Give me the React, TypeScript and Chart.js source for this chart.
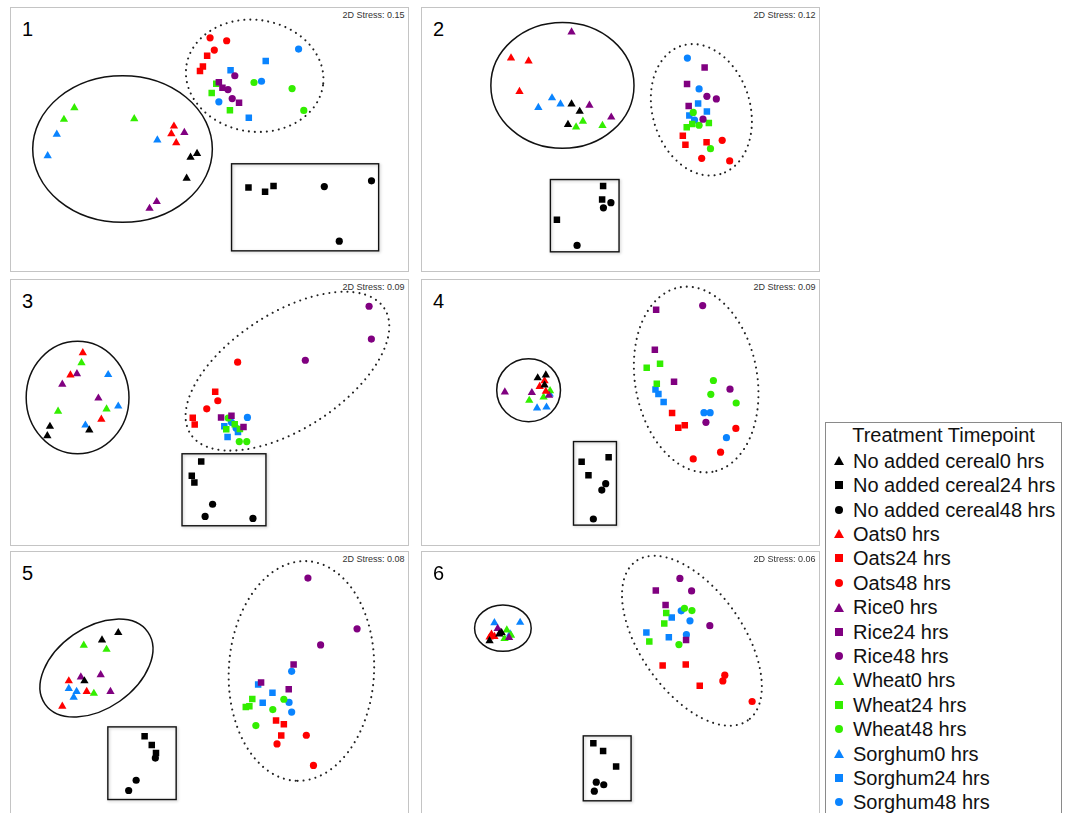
import React, { useEffect, useRef } from 'react';
import { Chart, registerables } from 'chart.js';

Chart.register(...registerables);

// ---------- categories ----------
const TREATMENTS = ['No added cereal', 'Oats', 'Rice', 'Wheat', 'Sorghum'];
const TIMEPOINTS = ['0 hrs', '24 hrs', '48 hrs'];
const TREATMENT_COLORS = ['#000000', '#ff0000', '#800080', '#33ee00', '#0a84ff'];
const TIME_SHAPES = ['triangle', 'rect', 'circle'];
const STRESS_VALUES = ['0.15', '0.12', '0.09', '0.09', '0.08', '0.06'];
const LEGEND_TITLE = 'Treatment Timepoint';

// ---------- NMDS ordination points: [treatment, timepoint, NMDS1, NMDS2] ----------
const panel1Points = [
  [0, 0, 560, 438], [0, 0, 540, 450], [0, 0, 528, 515],
  [0, 1, 718, 544], [0, 1, 769, 557], [0, 1, 795, 539],
  [0, 2, 951, 541], [0, 2, 1096, 523], [0, 2, 997, 711],
  [1, 0, 489, 353], [1, 0, 481, 377], [1, 0, 496, 405],
  [1, 1, 591, 134], [1, 1, 578, 167], [1, 1, 569, 181],
  [1, 2, 600, 78], [1, 2, 651, 87], [1, 2, 613, 116],
  [2, 0, 521, 373], [2, 0, 436, 588], [2, 0, 414, 609],
  [2, 1, 627, 216], [2, 1, 638, 233], [2, 1, 689, 280],
  [2, 2, 676, 196], [2, 2, 655, 239], [2, 2, 668, 267],
  [3, 0, 183, 296], [3, 0, 151, 332], [3, 0, 367, 330],
  [3, 1, 619, 221], [3, 1, 605, 250], [3, 1, 661, 303],
  [3, 2, 735, 217], [3, 2, 852, 236], [3, 2, 888, 304],
  [4, 0, 129, 378], [4, 0, 101, 445], [4, 0, 438, 396],
  [4, 1, 771, 150], [4, 1, 663, 179], [4, 1, 719, 327],
  [4, 2, 872, 113], [4, 2, 758, 213], [4, 2, 627, 277],
];
const panel2Points = [
  [0, 0, 451, 284], [0, 0, 476, 307], [0, 0, 440, 348],
  [0, 1, 548, 539], [0, 1, 545, 581], [0, 1, 406, 644],
  [0, 2, 572, 591], [0, 2, 549, 607], [0, 2, 468, 724],
  [1, 0, 265, 141], [1, 0, 319, 150], [1, 0, 291, 245],
  [1, 1, 793, 383], [1, 1, 801, 411], [1, 1, 866, 403],
  [1, 2, 914, 397], [1, 2, 851, 453], [1, 2, 937, 461],
  [2, 0, 451, 60], [2, 0, 506, 288], [2, 0, 573, 325],
  [2, 1, 860, 170], [2, 1, 806, 222], [2, 1, 811, 290],
  [2, 2, 867, 260], [2, 2, 896, 268], [2, 2, 855, 331],
  [3, 0, 486, 338], [3, 0, 465, 356], [3, 0, 546, 351],
  [3, 1, 805, 356], [3, 1, 873, 343], [3, 1, 822, 346],
  [3, 2, 825, 310], [3, 2, 843, 350], [3, 2, 878, 423],
  [4, 0, 391, 265], [4, 0, 417, 284], [4, 0, 349, 295],
  [4, 1, 840, 282], [4, 1, 867, 307], [4, 1, 813, 320],
  [4, 2, 807, 141], [4, 2, 843, 237], [4, 2, 829, 334],
];
const panel3Points = [
  [0, 0, 108, 447], [0, 0, 100, 476], [0, 0, 229, 458],
  [0, 1, 573, 556], [0, 1, 544, 600], [0, 1, 552, 621],
  [0, 2, 608, 689], [0, 2, 585, 727], [0, 2, 732, 733],
  [1, 0, 209, 218], [1, 0, 171, 287], [1, 0, 266, 425],
  [1, 1, 616, 339], [1, 1, 547, 420], [1, 1, 553, 441],
  [1, 2, 685, 247], [1, 2, 624, 367], [1, 2, 590, 392],
  [2, 0, 191, 283], [2, 0, 146, 316], [2, 0, 257, 359],
  [2, 1, 634, 419], [2, 1, 666, 414], [2, 1, 703, 449],
  [2, 2, 1089, 73], [2, 2, 1096, 175], [2, 2, 893, 241],
  [3, 0, 205, 249], [3, 0, 133, 400], [3, 0, 282, 393],
  [3, 1, 650, 456], [3, 1, 676, 440], [3, 1, 692, 455],
  [3, 2, 656, 421], [3, 2, 690, 494], [3, 2, 713, 494],
  [4, 0, 287, 286], [4, 0, 318, 384], [4, 0, 217, 443],
  [4, 1, 644, 446], [4, 1, 686, 464], [4, 1, 654, 480],
  [4, 2, 715, 419], [4, 2, 666, 434], [4, 2, 680, 452],
];
const panel4Points = [
  [0, 0, 347, 296], [0, 0, 372, 287], [0, 0, 368, 318],
  [0, 1, 482, 557], [0, 1, 565, 543], [0, 1, 503, 599],
  [0, 2, 556, 625], [0, 2, 544, 645], [0, 2, 518, 735],
  [1, 0, 368, 305], [1, 0, 353, 323], [1, 0, 372, 338],
  [1, 1, 760, 405], [1, 1, 779, 451], [1, 1, 799, 443],
  [1, 2, 956, 453], [1, 2, 909, 527], [1, 2, 825, 548],
  [2, 0, 246, 340], [2, 0, 329, 342], [2, 0, 382, 350],
  [2, 1, 711, 84], [2, 1, 707, 208], [2, 1, 766, 308],
  [2, 2, 854, 71], [2, 2, 938, 331], [2, 2, 864, 434],
  [3, 0, 321, 366], [3, 0, 365, 356], [3, 0, 385, 336],
  [3, 1, 682, 264], [3, 1, 723, 252], [3, 1, 713, 314],
  [3, 2, 887, 304], [3, 2, 879, 347], [3, 2, 957, 374],
  [4, 0, 345, 390], [4, 0, 374, 387], [4, 0, 384, 346],
  [4, 1, 709, 332], [4, 1, 718, 346], [4, 1, 734, 371],
  [4, 2, 858, 404], [4, 2, 877, 404], [4, 2, 927, 482],
];
const panel5Points = [
  [0, 0, 318, 258], [0, 0, 268, 281], [0, 0, 214, 408],
  [0, 1, 399, 580], [0, 1, 421, 607], [0, 1, 434, 632],
  [0, 2, 432, 648], [0, 2, 373, 717], [0, 2, 350, 749],
  [1, 0, 166, 408], [1, 0, 221, 441], [1, 0, 146, 487],
  [1, 1, 803, 531], [1, 1, 827, 543], [1, 1, 819, 578],
  [1, 2, 896, 577], [1, 2, 806, 604], [1, 2, 918, 671],
  [2, 0, 264, 389], [2, 0, 203, 396], [2, 0, 294, 441],
  [2, 1, 857, 357], [2, 1, 757, 413], [2, 1, 842, 434],
  [2, 2, 901, 88], [2, 2, 1052, 246], [2, 2, 940, 296],
  [3, 0, 212, 297], [3, 0, 282, 310], [3, 0, 243, 447],
  [3, 1, 730, 464], [3, 1, 721, 487], [3, 1, 710, 489],
  [3, 2, 827, 465], [3, 2, 793, 497], [3, 2, 741, 547],
  [4, 0, 166, 432], [4, 0, 190, 441], [4, 0, 181, 459],
  [4, 1, 748, 419], [4, 1, 792, 445], [4, 1, 762, 476],
  [4, 2, 851, 378], [4, 2, 843, 475], [4, 2, 851, 505],
];
const panel6Points = [
  [0, 0, 199, 283], [0, 0, 229, 262], [0, 0, 236, 258],
  [0, 1, 518, 602], [0, 1, 548, 626], [0, 1, 588, 674],
  [0, 2, 527, 723], [0, 2, 550, 731], [0, 2, 521, 751],
  [1, 0, 205, 263], [1, 0, 214, 270], [1, 0, 199, 272],
  [1, 1, 731, 360], [1, 1, 802, 357], [1, 1, 845, 423],
  [1, 2, 922, 390], [1, 2, 916, 408], [1, 2, 1006, 472],
  [2, 0, 224, 245], [2, 0, 232, 257], [2, 0, 259, 273],
  [2, 1, 710, 127], [2, 1, 740, 172], [2, 1, 803, 281],
  [2, 2, 784, 89], [2, 2, 820, 128], [2, 2, 876, 236],
  [3, 0, 252, 250], [3, 0, 245, 276], [3, 0, 265, 266],
  [3, 1, 742, 197], [3, 1, 736, 229], [3, 1, 690, 285],
  [3, 2, 798, 182], [3, 2, 821, 189], [3, 2, 781, 295],
  [4, 0, 214, 227], [4, 0, 293, 226], [4, 0, 262, 262],
  [4, 1, 759, 211], [4, 1, 681, 257], [4, 1, 750, 272],
  [4, 2, 788, 190], [4, 2, 815, 221], [4, 2, 804, 264],
];

// ---------- group outlines (data units): [cx, cy, rx, ry, rotationDeg, dotted] ----------
const panel1Ellipses = [[331, 424, 276, 228, 0, 0], [737, 196, 212, 174, 8, 1]];
const panel2Ellipses = [[423, 226, 220, 196, 0, 0], [850, 302, 206, 152, 73.5, 1]];
const panel3Ellipses = [[193, 357, 158, 175, 0, 0], [838, 275, 355, 180, -33, 1]];
const panel4Ellipses = [[319, 334, 98, 98, 0, 0], [834, 301, 288, 190, 80, 1]];
const panel5Ellipses = [[251, 368, 193, 126, -35, 0], [881, 377, 338, 226, 93, 1]];
const panel6Ellipses = [[240, 244, 87, 72, 0, 0], [821, 283, 299, 160, 55, 1]];
// control-group boxes (data units): [x1, y1, x2, y2]
const panel1Boxes = [[666, 470, 1118, 741]];
const panel2Boxes = [[386, 519, 597, 744]];
const panel3Boxes = [[514, 532, 772, 756]];
const panel4Boxes = [[457, 494, 589, 754]];
const panel5Boxes = [[286, 551, 496, 777]];
const panel6Boxes = [[487, 579, 634, 781]];

// ---------- layout ----------
const FONT = 'Arial, "Liberation Sans", Helvetica, sans-serif';
const UNITS_PER_PX = 3;
const MARKER_RADII = [4.8, 4.6, 3.6];
const PANELS = [
  { id: '1', points: panel1Points, ellipses: panel1Ellipses, boxes: panel1Boxes, canvas: { x: 10, y: 8, w: 406, h: 265 }, frame: { l: 10, t: 7, r: 409, b: 272 } },
  { id: '2', points: panel2Points, ellipses: panel2Ellipses, boxes: panel2Boxes, canvas: { x: 420, y: 8, w: 402, h: 265 }, frame: { l: 421, t: 7, r: 820, b: 272 } },
  { id: '3', points: panel3Points, ellipses: panel3Ellipses, boxes: panel3Boxes, canvas: { x: 10, y: 278, w: 400, h: 268 }, frame: { l: 10, t: 279, r: 409, b: 546 } },
  { id: '4', points: panel4Points, ellipses: panel4Ellipses, boxes: panel4Boxes, canvas: { x: 420, y: 278, w: 402, h: 268 }, frame: { l: 421, t: 279, r: 820, b: 546 } },
  { id: '5', points: panel5Points, ellipses: panel5Ellipses, boxes: panel5Boxes, canvas: { x: 10, y: 545, w: 400, h: 268 }, frame: { l: 10, t: 551, r: 409, b: 830 } },
  { id: '6', points: panel6Points, ellipses: panel6Ellipses, boxes: panel6Boxes, canvas: { x: 420, y: 545, w: 402, h: 268 }, frame: { l: 421, t: 551, r: 820, b: 830 } },
];

function Panel({ cfg }: { cfg: any }) {
  const ref = useRef<HTMLCanvasElement>(null);
  useEffect(() => {
    if (!ref.current) return;
    const datasets: any[] = [];
    TREATMENTS.forEach((t, ti) => {
      TIMEPOINTS.forEach((h, hi) => {
        datasets.push({
          label: t + h,
          data: cfg.points
            .filter((p: number[]) => p[0] === ti && p[1] === hi)
            .map((p: number[]) => ({ x: p[2], y: p[3] })),
          pointStyle: TIME_SHAPES[hi],
          pointRadius: MARKER_RADII[hi],
          pointBorderWidth: 0,
          backgroundColor: TREATMENT_COLORS[ti],
          borderColor: TREATMENT_COLORS[ti],
          borderWidth: 0,
          showLine: false,
        });
      });
    });
    const outlines = {
      id: 'outlines',
      beforeDatasetsDraw(chart: any) {
        const { ctx, scales } = chart;
        const xs = scales.x;
        const ys = scales.y;
        ctx.save();
        for (const [cx, cy, rx, ry, rot, dotted] of cfg.ellipses) {
          const px = xs.getPixelForValue(cx);
          const py = ys.getPixelForValue(cy);
          const prx = Math.abs(xs.getPixelForValue(cx + rx) - px);
          const pry = Math.abs(ys.getPixelForValue(cy + ry) - py);
          ctx.beginPath();
          ctx.ellipse(px, py, prx, pry, (rot * Math.PI) / 180, 0, Math.PI * 2);
          if (dotted) {
            ctx.setLineDash([0.01, 6]);
            ctx.lineCap = 'round';
            ctx.lineWidth = 2.1;
            ctx.strokeStyle = '#222';
          } else {
            ctx.setLineDash([]);
            ctx.lineCap = 'butt';
            ctx.lineWidth = 1.5;
            ctx.strokeStyle = '#111';
          }
          ctx.stroke();
        }
        ctx.setLineDash([]);
        for (const [x1, y1, x2, y2] of cfg.boxes) {
          const a = xs.getPixelForValue(x1);
          const b = ys.getPixelForValue(y1);
          const c = xs.getPixelForValue(x2);
          const d = ys.getPixelForValue(y2);
          ctx.save();
          ctx.shadowColor = 'rgba(0,0,0,0.25)';
          ctx.shadowBlur = 3;
          ctx.shadowOffsetX = 1;
          ctx.shadowOffsetY = 1;
          ctx.lineWidth = 1.4;
          ctx.strokeStyle = '#111';
          ctx.strokeRect(a, b, c - a, d - b);
          ctx.restore();
        }
        ctx.restore();
      },
    };
    const chart = new Chart(ref.current, {
      type: 'scatter',
      data: { datasets },
      options: {
        animation: false,
        responsive: false,
        maintainAspectRatio: false,
        devicePixelRatio: 1,
        events: [],
        layout: { padding: 0 },
        scales: {
          x: { type: 'linear', display: false, min: 0, max: cfg.canvas.w * UNITS_PER_PX },
          y: { type: 'linear', display: false, reverse: true, min: 0, max: cfg.canvas.h * UNITS_PER_PX },
        },
        plugins: { legend: { display: false }, tooltip: { enabled: false }, title: { display: false } },
      },
      plugins: [outlines],
    } as any);
    return () => chart.destroy();
  }, []);
  return (
    <canvas
      ref={ref}
      width={cfg.canvas.w}
      height={cfg.canvas.h}
      style={{ position: 'absolute', left: cfg.canvas.x, top: cfg.canvas.y, width: cfg.canvas.w, height: cfg.canvas.h }}
    />
  );
}

function Marker({ shape, color }: { shape: string; color: string }) {
  if (shape === 'triangle') {
    return (
      <div style={{ width: 0, height: 0, borderLeft: '5px solid transparent', borderRight: '5px solid transparent', borderBottom: `9px solid ${color}` }} />
    );
  }
  if (shape === 'rect') return <div style={{ width: 8, height: 8, background: color }} />;
  return <div style={{ width: 8, height: 8, borderRadius: '50%', background: color }} />;
}

export default function App() {
  const legendRows: { label: string; color: string; shape: string }[] = [];
  TREATMENTS.forEach((t, ti) =>
    TIMEPOINTS.forEach((h, hi) => legendRows.push({ label: t + h, color: TREATMENT_COLORS[ti], shape: TIME_SHAPES[hi] }))
  );
  const LEG = { l: 825, t: 422, r: 1062 };
  const rowBase0 = 467.7;
  const rowStep = 24.4;
  const legFont = 20;
  return (
    <div style={{ position: 'absolute', left: 0, top: 0, width: 1073, height: 813, overflow: 'hidden', background: '#fff', fontFamily: FONT }}>
      {PANELS.map((p, i) => (
        <React.Fragment key={p.id}>
          <div
            style={{
              position: 'absolute', left: p.frame.l, top: p.frame.t, width: p.frame.r - p.frame.l, height: p.frame.b - p.frame.t,
              border: '1.5px solid #c4c4c4', boxSizing: 'border-box',
            }}
          />
          <div style={{ position: 'absolute', left: p.frame.l + 12, top: p.frame.t + 28.5 - 0.8465 * 20, fontSize: 20, lineHeight: '20px', color: '#000', whiteSpace: 'nowrap' }}>
            {p.id}
          </div>
          <div style={{ position: 'absolute', right: 1073 - (p.frame.r - 4.5), top: p.frame.t + 11.5 - 0.8465 * 9, fontSize: 9, lineHeight: '9px', color: '#333', whiteSpace: 'nowrap' }}>
            {'2D Stress: ' + STRESS_VALUES[i]}
          </div>
          <Panel cfg={p} />
        </React.Fragment>
      ))}
      <div style={{ position: 'absolute', left: LEG.l, top: LEG.t, width: LEG.r - LEG.l, height: 420, border: '1px solid #8a8a8a', boxSizing: 'border-box' }} />
      <div style={{ position: 'absolute', left: LEG.l, width: LEG.r - LEG.l, top: 442 - 0.8465 * legFont, fontSize: legFont, lineHeight: `${legFont}px`, textAlign: 'center', color: '#111', whiteSpace: 'nowrap' }}>
        {LEGEND_TITLE}
      </div>
      {legendRows.map((row, i) => {
        const base = rowBase0 + i * rowStep;
        return (
          <React.Fragment key={row.label}>
            <div style={{ position: 'absolute', left: 839 - 5, top: base - 7 - 5, width: 10, height: 10, display: 'flex', alignItems: 'center', justifyContent: 'center' }}>
              <Marker shape={row.shape} color={row.color} />
            </div>
            <div style={{ position: 'absolute', left: 853, top: base - 0.8465 * legFont, fontSize: legFont, lineHeight: `${legFont}px`, color: '#111', whiteSpace: 'nowrap' }}>
              {row.label}
            </div>
          </React.Fragment>
        );
      })}
    </div>
  );
}
